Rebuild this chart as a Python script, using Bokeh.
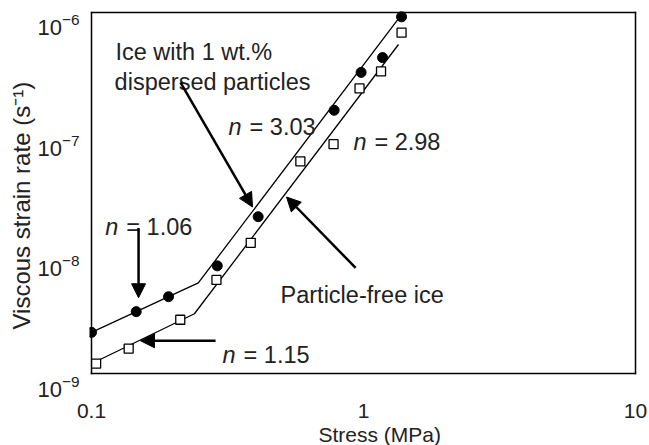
from bokeh.plotting import figure
from bokeh.models import (Label, Arrow, NormalHead, FixedTicker, CustomJSTickFormatter,
                          LogTickFormatter, LogAxis, LogScale, Range1d, Title)
from bokeh.embed import file_html
from bokeh.resources import INLINE

# ---- data ----
stress_particle = [0.100, 0.146, 0.192, 0.290, 0.410, 0.780, 0.980, 1.175, 1.380]
rate_particle = [2.2e-9, 3.27e-9, 4.35e-9, 7.85e-9, 2.01e-8, 1.54e-7, 3.18e-7, 4.22e-7, 9.2e-7]

stress_free = [0.104, 0.137, 0.212, 0.288, 0.385, 0.586, 0.776, 0.967, 1.160, 1.380]
rate_free = [1.21e-9, 1.61e-9, 2.8e-9, 6.0e-9, 1.22e-8, 5.8e-8, 8.05e-8, 2.34e-7, 3.24e-7, 6.8e-7]

fit_particle_x = [0.100, 0.247, 1.380]
fit_particle_y = [2.2e-9, 5.67e-9, 9.6e-7]
fit_free_x = [0.1017, 0.239, 1.345]
fit_free_y = [1.23e-9, 3.14e-9, 5.42e-7]

x_ticks = [0.1, 1, 10]
y_ticks = [1e-9, 1e-8, 1e-7, 1e-6]

x_title = "Stress (MPa)"
y_title = "Viscous strain rate (s\u207b\u00b9)"

FONT = "Liberation Sans"
INK = "#222222"

# pixel scale of the reference: 272 px per decade in x, 120.67 px per decade in y
XDEC, YDEC = 272.0, 120.67
X0, X1 = x_ticks[0], x_ticks[-1]
Y0, Y1 = y_ticks[0], y_ticks[-1]
# the drawing area reaches a little past the drawn box (mostly below it, so that
# the y tick labels, which sit below their decade lines, are all kept)
xr = (X0 * 10 ** (-2 / XDEC), X1 * 10 ** (2 / XDEC))
yr = (Y0 * 10 ** (-24 / YDEC), Y1 * 10 ** (2 / YDEC))
LABEL_SHIFT = 10 ** (12 / YDEC)

p = figure(width=649, height=445, x_axis_type="log", y_axis_type="log",
           x_range=xr, y_range=yr, y_axis_location=None,
           output_backend="svg", toolbar_location=None,
           min_border_left=89, min_border_right=12, min_border_top=10, min_border_bottom=47)
p.extra_y_ranges = {"lab": Range1d(yr[0] * LABEL_SHIFT, yr[1] * LABEL_SHIFT)}
p.extra_y_scales = {"lab": LogScale()}

p.xgrid.visible = False
p.ygrid.visible = False
p.outline_line_color = None
p.background_fill_color = "white"
p.border_fill_color = "white"

# plot box
p.segment(x0=[X0, X0, X0, X1], y0=[Y0, Y1, Y0, Y0], x1=[X1, X1, X0, X1], y1=[Y0, Y1, Y1, Y1],
          line_color="black", line_width=1.5, line_cap="square")

# fit lines
p.line(fit_particle_x, fit_particle_y, line_color="black", line_width=1.3)
p.line(fit_free_x, fit_free_y, line_color="black", line_width=1.3)
# points
p.scatter(stress_particle, rate_particle, marker="circle", size=10,
          fill_color="black", line_color="black")
p.scatter(stress_free, rate_free, marker="square", size=9,
          fill_color="white", line_color="black", line_width=1.3)

yax = LogAxis(y_range_name="lab", ticker=FixedTicker(ticks=y_ticks), formatter=LogTickFormatter())
p.add_layout(yax, "left")

for ax in (p.xaxis[0], yax):
    ax.axis_line_color = None
    ax.major_tick_line_color = None
    ax.minor_tick_line_color = None
    ax.major_label_text_font = FONT
    ax.major_label_text_color = INK

p.xaxis.ticker = FixedTicker(ticks=x_ticks)
p.xaxis.formatter = CustomJSTickFormatter(code="return tick < 1 ? tick.toFixed(1) : tick.toFixed(0);")
p.xaxis.major_label_text_font_size = "21px"
p.xaxis.major_label_standoff = 0
yax.major_label_text_font_size = "22px"
yax.major_label_standoff = 4

p.add_layout(Title(text=x_title, align="left", offset=229, standoff=0,
                   text_font=FONT, text_font_size="21px", text_font_style="normal",
                   text_color=INK), "below")
p.add_layout(Title(text=y_title, align="left", offset=68, standoff=0,
                   text_font=FONT, text_font_size="24px", text_font_style="normal",
                   text_color=INK), "left")

TS = "23.5px"


def txt(x, y, s, style="normal", dx=0):
    p.add_layout(Label(x=x, y=y, text=s, x_offset=dx, text_font=FONT, text_font_size=TS,
                       text_font_style=style, text_color=INK,
                       text_baseline="alphabetic", text_align="left"))


def ntxt(x, y, val):
    txt(x, y, "n", style="italic")
    txt(x, y, "= " + val, dx=21)


txt(10 ** -0.912, 10 ** -6.332, "Ice with 1 wt.%")
txt(10 ** -0.915, 10 ** -6.580, "dispersed particles")
ntxt(10 ** -0.496, 10 ** -6.953, "3.03")
ntxt(10 ** -0.037, 10 ** -7.077, "2.98")
ntxt(10 ** -0.949, 10 ** -7.782, "1.06")
txt(10 ** -0.305, 10 ** -8.345, "Particle-free ice")
ntxt(10 ** -0.518, 10 ** -8.843, "1.15")


def arrow(x0, y0, x1, y1):
    p.add_layout(Arrow(end=NormalHead(size=14, fill_color="black", line_color="black"),
                       x_start=x0, y_start=y0, x_end=x1, y_end=y1,
                       line_color="black", line_width=2.5))


arrow(10 ** -0.673, 10 ** -6.580, 10 ** -0.408, 10 ** -7.616)
arrow(10 ** -0.827, 10 ** -7.790, 10 ** -0.827, 10 ** -8.370)
arrow(10 ** -0.029, 10 ** -8.122, 10 ** -0.283, 10 ** -7.533)
arrow(10 ** -0.544, 10 ** -8.727, 10 ** -0.820, 10 ** -8.727)

open("out.html", "w").write(file_html(p, INLINE))
